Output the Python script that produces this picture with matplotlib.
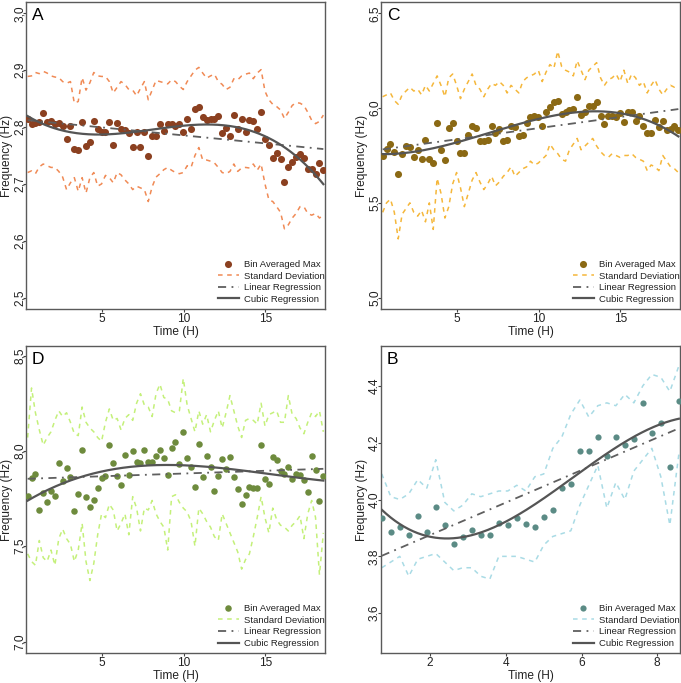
import numpy as np
import matplotlib
matplotlib.use('Agg')
import matplotlib.pyplot as plt
from matplotlib.lines import Line2D
from matplotlib.ticker import FuncFormatter

plt.rcParams['font.family'] = ['Liberation Sans', 'DejaVu Sans']

# time bins (hours)
time_long = np.linspace(0.44, 18.56, 77)
time_short = np.linspace(0.72, 8.57, 34)

# panel A
a_max = [2.814, 2.806, 2.807, 2.809, 2.824, 2.809, 2.810, 2.806, 2.807, 2.801,
         2.779, 2.801, 2.761, 2.760, 2.809, 2.767, 2.773, 2.810, 2.797, 2.791,
         2.791, 2.809, 2.769, 2.807, 2.796, 2.794, 2.790, 2.765, 2.791, 2.765,
         2.792, 2.749, 2.785, 2.785, 2.805, 2.793, 2.806, 2.805, 2.802, 2.805,
         2.792, 2.814, 2.796, 2.831, 2.836, 2.817, 2.813, 2.815, 2.815, 2.820,
         2.790, 2.799, 2.785, 2.821, 2.797, 2.814, 2.792, 2.813, 2.810, 2.797,
         2.826, 2.779, 2.769, 2.746, 2.754, 2.743, 2.703, 2.730, 2.738, 2.748,
         2.752, 2.746, 2.727, 2.727, 2.718, 2.736, 2.724]
a_hi = [2.889, 2.890, 2.896, 2.894, 2.898, 2.895, 2.890, 2.888, 2.887, 2.880,
        2.877, 2.880, 2.842, 2.845, 2.887, 2.865, 2.878, 2.896, 2.890, 2.889,
        2.889, 2.880, 2.860, 2.870, 2.880, 2.875, 2.866, 2.865, 2.855, 2.868,
        2.880, 2.848, 2.865, 2.882, 2.880, 2.878, 2.876, 2.883, 2.880, 2.872,
        2.866, 2.880, 2.890, 2.900, 2.905, 2.895, 2.886, 2.890, 2.893, 2.880,
        2.875, 2.866, 2.870, 2.885, 2.883, 2.890, 2.893, 2.895, 2.885, 2.895,
        2.901, 2.863, 2.848, 2.840, 2.836, 2.830, 2.815, 2.826, 2.838, 2.843,
        2.842, 2.838, 2.826, 2.812, 2.806, 2.810, 2.821]
a_lo = [2.720, 2.723, 2.718, 2.730, 2.735, 2.732, 2.729, 2.729, 2.722, 2.712,
        2.690, 2.702, 2.711, 2.687, 2.711, 2.684, 2.711, 2.720, 2.696, 2.700,
        2.715, 2.711, 2.702, 2.720, 2.716, 2.707, 2.700, 2.690, 2.696, 2.693,
        2.690, 2.669, 2.695, 2.712, 2.718, 2.725, 2.729, 2.724, 2.720, 2.718,
        2.720, 2.732, 2.729, 2.750, 2.764, 2.742, 2.742, 2.740, 2.737, 2.729,
        2.720, 2.718, 2.722, 2.735, 2.722, 2.728, 2.729, 2.728, 2.735, 2.724,
        2.735, 2.700, 2.672, 2.669, 2.660, 2.650, 2.621, 2.628, 2.640, 2.648,
        2.660, 2.660, 2.648, 2.645, 2.648, 2.640, 2.645]

# panel C
c_max = [5.745, 5.783, 5.812, 5.766, 5.651, 5.757, 5.801, 5.794, 5.741, 5.780,
         5.731, 5.833, 5.732, 5.710, 5.921, 5.780, 5.724, 5.893, 5.921, 5.829,
         5.764, 5.764, 5.859, 5.907, 5.893, 5.827, 5.829, 5.833, 5.903, 5.871,
         5.889, 5.829, 5.833, 5.907, 5.900, 5.854, 5.856, 5.921, 5.951, 5.956,
         5.952, 5.907, 5.982, 6.005, 6.030, 6.039, 5.967, 5.977, 5.988, 5.995,
         6.056, 5.965, 5.982, 6.012, 6.009, 6.030, 5.960, 5.917, 5.960, 5.956,
         5.952, 5.974, 5.928, 5.981, 5.977, 5.933, 5.956, 5.908, 5.868, 5.868,
         5.938, 5.898, 5.933, 5.882, 5.889, 5.903, 5.886]
c_hi = [6.06, 6.07, 6.08, 6.04, 6.02, 6.07, 6.09, 6.11, 6.09, 6.10,
        6.07, 6.12, 6.09, 6.13, 6.17, 6.12, 6.06, 6.16, 6.18, 6.12,
        6.05, 6.10, 6.14, 6.18, 6.12, 6.10, 6.06, 6.10, 6.13, 6.12,
        6.14, 6.12, 6.08, 6.12, 6.10, 6.08, 6.14, 6.16, 6.17, 6.18,
        6.20, 6.14, 6.19, 6.23, 6.21, 6.30, 6.22, 6.20, 6.19, 6.17,
        6.25, 6.20, 6.15, 6.20, 6.22, 6.24, 6.16, 6.12, 6.15, 6.16,
        6.18, 6.14, 6.20, 6.13, 6.18, 6.16, 6.12, 6.14, 6.08, 6.12,
        6.15, 6.10, 6.07, 6.10, 6.12, 6.11, 6.12]
c_lo = [5.45, 5.50, 5.52, 5.45, 5.31, 5.44, 5.47, 5.50, 5.45, 5.43,
        5.46, 5.40, 5.50, 5.36, 5.63, 5.55, 5.42, 5.48, 5.60, 5.66,
        5.58, 5.48, 5.55, 5.62, 5.66, 5.61, 5.57, 5.60, 5.64, 5.59,
        5.61, 5.64, 5.66, 5.69, 5.64, 5.66, 5.68, 5.69, 5.72, 5.70,
        5.71, 5.73, 5.75, 5.81, 5.78, 5.76, 5.73, 5.72, 5.78, 5.81,
        5.84, 5.78, 5.80, 5.82, 5.84, 5.80, 5.77, 5.75, 5.74, 5.76,
        5.75, 5.74, 5.75, 5.75, 5.76, 5.74, 5.73, 5.72, 5.67, 5.70,
        5.69, 5.67, 5.75, 5.72, 5.69, 5.68, 5.66]

# panel D
d_max = [7.765, 7.857, 7.878, 7.690, 7.779, 7.730, 7.791, 7.761, 7.939, 7.843,
         7.909, 7.864, 7.683, 7.773, 8.003, 7.759, 7.704, 7.742, 7.805, 7.857,
         7.869, 8.031, 7.934, 7.869, 7.822, 7.976, 7.874, 7.997, 7.944, 7.934,
         8.007, 7.941, 7.941, 7.974, 8.003, 7.962, 7.874, 8.017, 8.044, 7.930,
         8.099, 7.962, 7.916, 7.808, 8.038, 7.864, 7.974, 7.916, 7.791, 7.869,
         7.960, 7.904, 7.967, 7.861, 7.798, 7.721, 7.770, 7.808, 7.805, 7.805,
         8.031, 7.854, 7.826, 7.969, 7.951, 7.895, 7.878, 7.916, 7.850, 7.881,
         7.874, 7.847, 7.787, 7.974, 7.899, 7.738, 7.868]
d_hi = [8.07, 8.33, 8.20, 8.11, 8.03, 8.07, 8.10, 8.16, 8.21, 8.18,
        8.20, 8.15, 8.09, 8.08, 8.23, 8.15, 8.12, 8.10, 8.07, 8.05,
        8.15, 8.22, 8.16, 8.17, 8.11, 8.17, 8.19, 8.16, 8.25, 8.30,
        8.24, 8.23, 8.18, 8.30, 8.35, 8.28, 8.27, 8.21, 8.20, 8.21,
        8.38, 8.24, 8.17, 8.10, 8.21, 8.14, 8.19, 8.10, 8.16, 8.21,
        8.12, 8.20, 8.29, 8.21, 8.13, 8.07, 8.16, 8.17, 8.16, 8.14,
        8.25, 8.13, 8.19, 8.20, 8.21, 8.15, 8.15, 8.29, 8.19, 8.17,
        8.12, 8.09, 8.15, 8.20, 8.18, 8.21, 8.10]
d_lo = [7.46, 7.42, 7.40, 7.53, 7.44, 7.42, 7.48, 7.40, 7.54, 7.59,
        7.54, 7.51, 7.42, 7.48, 7.62, 7.42, 7.32, 7.41, 7.56, 7.67,
        7.65, 7.72, 7.69, 7.58, 7.62, 7.67, 7.56, 7.76, 7.70, 7.58,
        7.70, 7.69, 7.74, 7.67, 7.63, 7.60, 7.48, 7.76, 7.77, 7.73,
        7.70, 7.68, 7.63, 7.50, 7.70, 7.67, 7.63, 7.60, 7.55, 7.53,
        7.67, 7.62, 7.57, 7.52, 7.47, 7.38, 7.43, 7.46, 7.55, 7.65,
        7.76, 7.65, 7.57, 7.70, 7.64, 7.61, 7.60, 7.58, 7.61, 7.63,
        7.66, 7.54, 7.67, 7.74, 7.65, 7.35, 7.57]

# panel B
b_max = [3.936, 3.886, 3.902, 3.874, 3.943, 3.886, 3.973, 3.912, 3.845, 3.868,
         3.894, 3.874, 3.874, 3.919, 3.912, 3.936, 3.915, 3.905, 3.938, 3.964,
         4.042, 4.053, 4.169, 4.169, 4.221, 4.152, 4.219, 4.192, 4.213, 4.340,
         4.235, 4.269, 4.114, 4.345]
b_hi = [4.09, 4.01, 4.00, 4.02, 4.07, 4.04, 4.14, 3.99, 3.96, 3.98,
        4.02, 4.01, 4.02, 4.03, 4.03, 4.05, 4.03, 4.08, 4.09, 4.18,
        4.22, 4.30, 4.35, 4.29, 4.33, 4.34, 4.33, 4.37, 4.34, 4.40,
        4.44, 4.43, 4.38, 4.47]
b_lo = [3.76, 3.78, 3.80, 3.73, 3.79, 3.80, 3.81, 3.78, 3.75, 3.76,
        3.76, 3.73, 3.72, 3.80, 3.80, 3.80, 3.79, 3.78, 3.84, 3.87,
        3.88, 3.89, 3.98, 4.05, 4.12, 3.97, 4.06, 4.00, 4.10, 4.14,
        4.18, 4.08, 3.91, 4.16]

LINE_COL = '#555555'
SD_DASH = (3, 3)
LIN_DASH = (4.5, 3, 1, 3)


def panel(ax, t, mx, hi, lo, dot_col, sd_col, letter, xlim, ylim, yticks,
          xticks, comma, msize):
    t = np.asarray(t)
    ax.plot(t, hi, color=sd_col, lw=1.1, dashes=SD_DASH)
    ax.plot(t, lo, color=sd_col, lw=1.1, dashes=SD_DASH)
    ax.scatter(t, mx, s=msize, color=dot_col, linewidths=0, zorder=3)
    tt = np.linspace(t[0], t[-1], 200)
    lin = np.polyfit(t, mx, 1)
    cub = np.polyfit(t, mx, 3)
    ax.plot(tt, np.polyval(lin, tt), color='#5f5f5f', lw=1.3, dashes=LIN_DASH, zorder=4)
    ax.plot(tt, np.polyval(cub, tt), color=LINE_COL, lw=1.6, zorder=4)

    ax.set_xlim(xlim)
    ax.set_ylim(ylim)
    ax.set_xticks(xticks)
    ax.set_yticks(yticks)
    if comma:
        ax.yaxis.set_major_formatter(FuncFormatter(lambda v, p: ('%.1f' % v).replace('.', ',')))
    else:
        ax.yaxis.set_major_formatter(FuncFormatter(lambda v, p: '%.1f' % v))
    ax.tick_params(direction='out', length=2.5, width=0.8, colors='#444444',
                   labelsize=8.6, labelcolor='#222222', pad=0.5)
    ax.tick_params(axis='y', labelrotation=90, pad=-2.5)
    for lab in ax.get_yticklabels():
        lab.set_va('center')
    for s in ax.spines.values():
        s.set_color('#5a5a5a')
        s.set_linewidth(1.0)
    ax.set_xlabel('Time (H)', fontsize=8.6, color='#222222')
    ax.set_ylabel('Frequency (Hz)', fontsize=8.6, color='#222222')
    ax.xaxis.set_label_coords(0.5, -0.054)
    ax.yaxis.set_label_coords(-0.045, 0.5)
    ax.text(0.019, 0.94, letter, transform=ax.transAxes, fontsize=12.5,
            va='baseline', ha='left', color='black')

    handles = [
        Line2D([], [], ls='', marker='o', color=dot_col, markersize=np.sqrt(msize), markeredgewidth=0),
        Line2D([], [], color=sd_col, lw=1.1, dashes=SD_DASH),
        Line2D([], [], color='#5f5f5f', lw=1.3, dashes=LIN_DASH),
        Line2D([], [], color=LINE_COL, lw=1.6),
    ]
    labels = ['Bin Averaged Max', 'Standard Deviation', 'Linear Regression', 'Cubic Regression']
    leg = ax.legend(handles, labels, loc='lower right', frameon=False, fontsize=6.8,
                    handlelength=2.3, labelspacing=0.28, handletextpad=0.45,
                    borderaxespad=0.15, bbox_to_anchor=(1.015, 0.0))
    for txt in leg.get_texts():
        txt.set_color('#222222')


fig = plt.figure(figsize=(6.81, 6.83), dpi=100)
w, h = 0.439, 0.4495
axA = fig.add_axes([0.0382, 0.5476, w, h])
axC = fig.add_axes([0.5595, 0.5476, w, h])
axD = fig.add_axes([0.0382, 0.0439, w, h])
axB = fig.add_axes([0.5595, 0.0439, w, h])

panel(axA, time_long, a_max, a_hi, a_lo, '#8B4020', '#F08A55', 'A',
      (0.34, 18.66), (2.48, 3.02), [2.5, 2.6, 2.7, 2.8, 2.9, 3.0], [5, 10, 15], True, 26)
panel(axC, time_long, c_max, c_hi, c_lo, '#8B6914', '#F5B73B', 'C',
      (0.34, 18.66), (4.94, 6.56), [5.0, 5.5, 6.0, 6.5], [5, 10, 15], False, 26)
panel(axD, time_long, d_max, d_hi, d_lo, '#6E8B3D', '#C4F07A', 'D',
      (0.34, 18.66), (6.94, 8.55), [7.0, 7.5, 8.0, 8.5], [5, 10, 15], True, 22)
panel(axB, time_short, b_max, b_hi, b_lo, '#5B8B85', '#A9DBE5', 'B',
      (0.70, 8.60), (3.46, 4.54), [3.6, 3.8, 4.0, 4.2, 4.4], [2, 4, 6, 8], False, 20)

fig.savefig('out.png', dpi=100)
